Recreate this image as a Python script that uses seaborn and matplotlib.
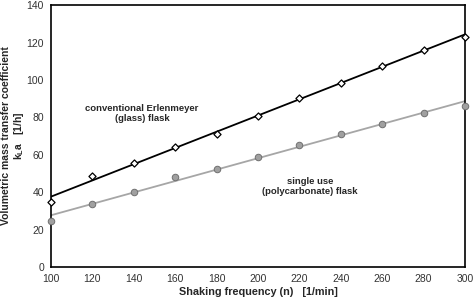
import numpy as np
import pandas as pd
import seaborn as sns
import matplotlib.pyplot as plt

# shaking frequency [1/min]
freq = [100, 120, 140, 160, 180, 200, 220, 240, 260, 280, 300]
# kLa [1/h]
kla_glass = [34.9, 48.5, 55.8, 64.3, 71.3, 80.5, 90.2, 98.5, 107.6, 116.1, 123.1]
kla_poly = [24.6, 33.7, 40.3, 47.9, 52.4, 59.0, 65.4, 71.3, 76.6, 82.5, 86.0]

df = pd.DataFrame({"n": freq, "glass": kla_glass, "poly": kla_poly})

sns.set_style("white")
plt.rcParams['font.family'] = ['Liberation Sans', 'DejaVu Sans']

fig = plt.figure(figsize=(4.74, 3.0), dpi=100)
ax = fig.add_axes([0.1076, 0.11, 0.8734, 0.873])

# trend lines
sns.regplot(data=df, x="n", y="glass", scatter=False, ci=None, ax=ax,
            line_kws={"color": "black", "lw": 1.3, "zorder": 2})
sns.regplot(data=df, x="n", y="poly", scatter=False, ci=None, ax=ax,
            line_kws={"color": "#a6a6a6", "lw": 1.3, "zorder": 2})

# measured points
sns.scatterplot(data=df, x="n", y="glass", marker="D", s=13, color="white",
                edgecolor="black", linewidth=0.9, ax=ax, zorder=3, clip_on=False)
sns.scatterplot(data=df, x="n", y="poly", marker="o", s=22, color="#a0a0a0",
                edgecolor="#707070", linewidth=0.7, ax=ax, zorder=3, clip_on=False)

ax.set_xlim(100, 300)
ax.set_ylim(0, 140)
ax.set_xticks(range(100, 301, 20))
ax.set_yticks(range(0, 141, 20))
ax.tick_params(axis="both", direction="out", length=3, width=1, labelsize=7.5,
               colors="black", pad=2)
ax.tick_params(axis="both", labelcolor="#333333")
for sp in ax.spines.values():
    sp.set_color("black")
    sp.set_linewidth(1.2)

ax.set_xlabel("Shaking frequency (n)   [1/min]", fontsize=7.8, fontweight="bold", labelpad=2)
ax.set_ylabel("Volumetric mass transfer coefficient\nk$_\\mathregular{L}$a   [1/h]",
              fontsize=7.5, fontweight="bold", linespacing=1.05)
ax.yaxis.set_label_coords(-0.061, 0.5)

ax.text(144, 82, "conventional Erlenmeyer\n(glass) flask", ha="center", va="center",
        fontsize=6.8, fontweight="bold", linespacing=1.2)
ax.text(225, 43, "single use\n(polycarbonate) flask", ha="center", va="center",
        fontsize=6.8, fontweight="bold", linespacing=1.2)

fig.savefig("out.png", dpi=100)
